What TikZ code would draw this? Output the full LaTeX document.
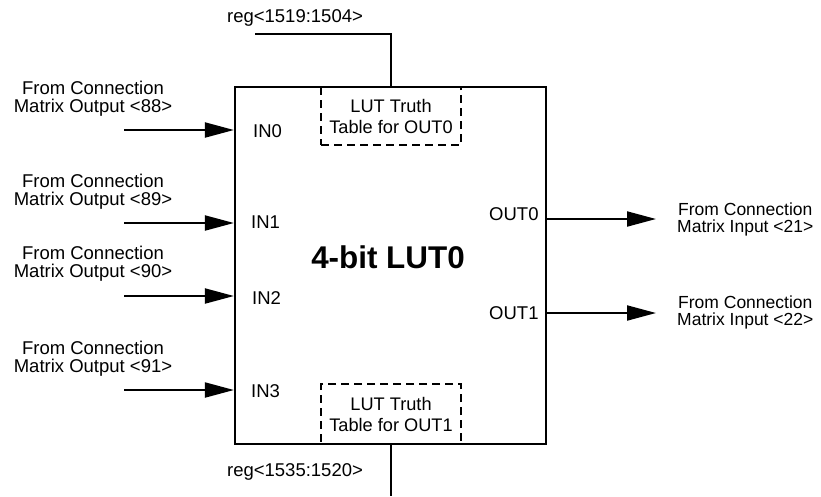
\documentclass[tikz,border=0pt]{standalone}
\usepackage{fontspec}
\setmainfont{Liberation Sans}
\usetikzlibrary{arrows.meta, positioning}

\begin{document}
\begin{tikzpicture}[x=1pt, y=-1pt,
      font=\fontsize{18.5}{18}\selectfont,
      wire/.style={line width=2pt},
      sig/.style={wire, -{Triangle[length=29pt, width=15pt]}},
      lutbox/.style={draw, line width=2.2pt, minimum width=311pt,
                     minimum height=357pt, inner sep=0pt},
      tbl/.style={draw, line width=1.8pt, dash pattern=on 8pt off 5pt,
                  minimum width=140pt, minimum height=58pt, align=center,
                  inner sep=0pt, font=\fontsize{18.2}{21}\selectfont},
      src/.style={align=center, inner sep=0pt},
      dst/.style={align=center, inner sep=0pt, anchor=west,
                  font=\fontsize{17.5}{17}\selectfont},
      pin/.style={anchor=west, inner sep=0pt}]
    \useasboundingbox (0,0) rectangle (821,496);
    \node[tbl] (tt0) at (391,116) {LUT Truth\\Table for OUT0};
    \node[tbl, minimum height=60pt] (tt1) at (391,414) {LUT Truth\\Table for OUT1};
    \node[lutbox] (lut) at (390.5,265.5) {};
    \node[font=\bfseries\fontsize{31.4}{31}\selectfont] (name) at (388,257) {4-bit LUT0};
    % register wires
    \coordinate (r0) at (255,34);
    \coordinate (r1) at (391,496);
    \node (reg0) at (295,18) {reg<1519:1504>};
    \node (reg1) at (295,472) {reg<1535:1520>};
    \draw[wire] (r0) -| (tt0.north);
    \draw[wire] (tt1.south) -- (r1);
    % inputs
    \coordinate (a0) at (124,130);
    \coordinate (a1) at (124,223);
    \coordinate (a2) at (124,296);
    \coordinate (a3) at (124,390);
    \node[src] (src0) at (93,99) {From Connection\\Matrix Output <88>};
    \node[src] (src1) at (93,192) {From Connection\\Matrix Output <89>};
    \node[src] (src2) at (93,264) {From Connection\\Matrix Output <90>};
    \node[src] (src3) at (93,359) {From Connection\\Matrix Output <91>};
    \node[pin] (in0) at (253,131) {IN0};
    \node[pin] (in1) at (251,222) {IN1};
    \node[pin] (in2) at (252,298) {IN2};
    \node[pin] (in3) at (251,391) {IN3};
    \draw[sig] (a0) -- (a0 -| lut.west);
    \draw[sig] (a1) -- (a1 -| lut.west);
    \draw[sig] (a2) -- (a2 -| lut.west);
    \draw[sig] (a3) -- (a3 -| lut.west);
    % outputs
    \coordinate (b0) at (656,219);
    \coordinate (b1) at (656,313);
    \node[pin] (out0) at (489,214) {OUT0};
    \node[pin] (out1) at (489,313) {OUT1};
    \node[dst] (dst0) at (677,219) {From Connection\\Matrix Input <21>};
    \node[dst] (dst1) at (677,312) {From Connection\\Matrix Input <22>};
    \draw[sig] (b0 -| lut.east) -- (b0);
    \draw[sig] (b1 -| lut.east) -- (b1);
  \end{tikzpicture}
\end{document}
